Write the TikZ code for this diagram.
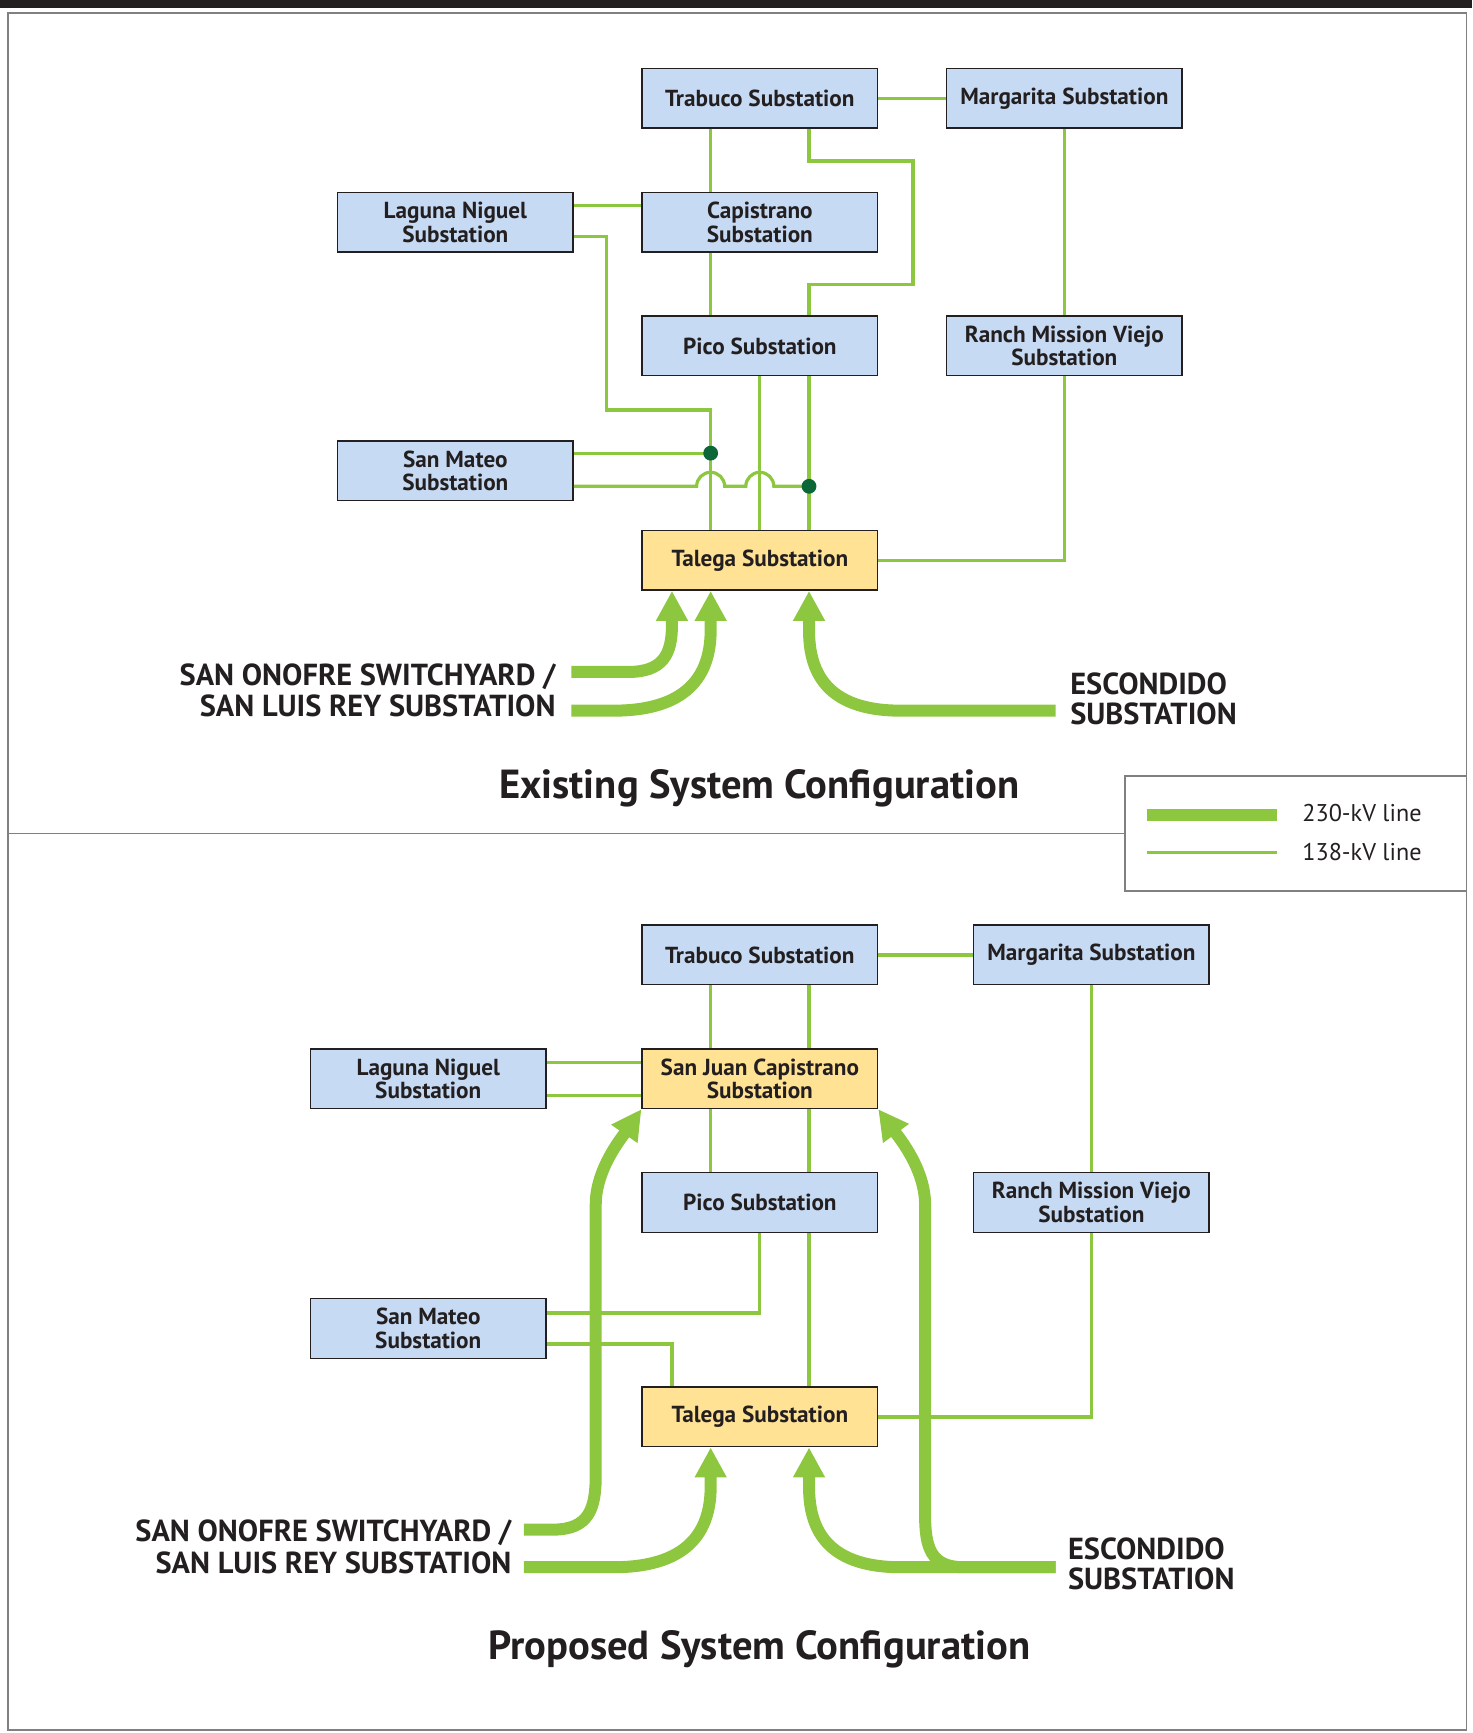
\documentclass[tikz,border=0pt]{standalone}
\usepackage{fontspec}
\setmainfont{PT Sans}
\usetikzlibrary{arrows.meta,positioning}
\definecolor{kvgreen}{HTML}{8DC63F}
\definecolor{boxblue}{HTML}{C6DAF3}
\definecolor{boxyellow}{HTML}{FFE294}
\definecolor{dotgreen}{HTML}{0B6638}
\definecolor{inkdark}{HTML}{231F20}
\definecolor{framegray}{HTML}{808080}

\begin{document}
\begin{tikzpicture}[x=0.5525pt,y=-0.5525pt,
  every node/.style={text=inkdark},
  sub/.style={draw=inkdark, line width=0.7pt, fill=boxblue, font=\bfseries\fontsize{11.6}{11.8}\selectfont,
    minimum width=117.7pt, minimum height=29.8pt, inner sep=0pt, align=center},
  newsub/.style={sub, fill=boxyellow},
  lowline/.style={draw=kvgreen, line width=1.6pt},
  highline/.style={draw=kvgreen, line width=6pt},
  feed/.style={highline, -{Triangle[width=15pt,length=15pt]}},
  source/.style={font=\bfseries\fontsize{15.2}{15}\selectfont, inner sep=0pt},
  heading/.style={font=\bfseries\fontsize{20.3}{22}\selectfont, inner sep=0pt},
  keytext/.style={font=\fontsize{12.1}{13}\selectfont, inner sep=0pt, anchor=west}]

  \def\laneA{643} % left lane
  \def\laneB{732} % right lane
  \def\laneC{608} % outer left lane
  \def\hop{7pt}   % radius of a line jump

  \useasboundingbox (0,0) rectangle (1332,1568);

  % frame, divider and key box
  \fill[inkdark] (0,0) rectangle (1332,7);
  \draw[framegray, line width=0.8pt] (7,12) rectangle (1327,1565);
  \draw[framegray, line width=0.8pt] (7,754) -- (1018,754);
  \draw[framegray, line width=0.8pt] (1018,702) rectangle (1327,806);

  % ---------- existing system ----------
  \node[sub] (trabuco) at (687.5,89) {Trabuco Substation};
  \node[sub] (margarita) at (963,89) {Margarita Substation};
  \node[sub] (laguna) at (412,201) {Laguna Niguel\\Substation};
  \node[sub] (capistrano) at (687.5,201) {Capistrano\\Substation};
  \node[sub] (pico) at (687.5,313) {Pico Substation};
  \node[sub] (ranch) at (963,313) {Ranch Mission Viejo\\Substation};
  \node[sub] (mateo) at (412,426) {San Mateo\\Substation};
  \node[newsub] (talega) at (687.5,507) {Talega Substation};

  % 138-kV lines
  \draw[lowline] (trabuco) -- (margarita);
  \draw[lowline] (trabuco.south -| \laneA,0) -- (capistrano.north -| \laneA,0);
  \draw[lowline] (trabuco.south -| \laneB,0) -- ++(0,29) -- ++(94,0) -- ++(0,112) -- ++(-94,0)
    -- (pico.north -| \laneB,0);
  \draw[lowline] (laguna.east |- 0,186) -- (capistrano.west |- 0,186);
  \draw[lowline] (laguna.east |- 0,214) -| (549,371) -| (talega.north -| \laneA,0);
  \draw[lowline] (capistrano.south -| \laneA,0) -- (pico.north -| \laneA,0);
  \draw[lowline] (margarita) -- (ranch);
  \draw[lowline] (ranch.south) |- (talega.east);
  \draw[lowline] (pico.south) -- (talega.north);
  \draw[lowline] (pico.south -| \laneB,0) -- (talega.north -| \laneB,0);
  \draw[lowline] (mateo.east |- 0,410) -- (\laneA,410);
  \draw[lowline] (mateo.east |- 0,440) -- (630.3,440) arc[start angle=180, end angle=0, radius=\hop]
    -- (674.8,440) arc[start angle=180, end angle=0, radius=\hop] -- (\laneB,440);
  \fill[dotgreen] (\laneA,410) circle[radius=3.7pt];
  \fill[dotgreen] (\laneB,440) circle[radius=3.7pt];

  % 230-kV feeds
  \node[source, anchor=east] (onofre) at (503,612) {SAN ONOFRE SWITCHYARD /};
  \node[source, anchor=east] (luisrey) at (503,639) {SAN LUIS REY SUBSTATION};
  \node[source, anchor=west, align=left] (escondido) at (968,632) {ESCONDIDO\\SUBSTATION};
  \draw[feed] (517,608) -- (568,608) .. controls (600,608) and (\laneC,592) .. (\laneC,565)
    -- (talega.south -| \laneC,0);
  \draw[feed] (517,643) -- (555,643) .. controls (628,643) and (\laneA,605) .. (\laneA,570)
    -- (talega.south -| \laneA,0);
  \draw[feed] (955,643) -- (815,643) .. controls (745,643) and (\laneB,605) .. (\laneB,570)
    -- (talega.south -| \laneB,0);

  \node[heading] (titleold) at (687,713) {Existing System Configuration};

  % key
  \draw[highline] (1038,737) -- (1155,737);
  \draw[lowline] (1038,771) -- (1155,771);
  \node[keytext] (keyhigh) at (1178,736) {230-kV line};
  \node[keytext] (keylow) at (1178,771) {138-kV line};

  % ---------- proposed system ----------
  \node[sub] (trabucoP) at (687.5,864) {Trabuco Substation};
  \node[sub] (margaritaP) at (987.5,864) {Margarita Substation};
  \node[sub] (lagunaP) at (387.5,976) {Laguna Niguel\\Substation};
  \node[newsub] (sanjuan) at (687.5,976) {San Juan Capistrano\\Substation};
  \node[sub] (picoP) at (687.5,1088) {Pico Substation};
  \node[sub] (ranchP) at (987.5,1088) {Ranch Mission Viejo\\Substation};
  \node[sub] (mateoP) at (387.5,1202) {San Mateo\\Substation};
  \node[newsub] (talegaP) at (687.5,1282) {Talega Substation};

  % 138-kV lines
  \draw[lowline] (trabucoP) -- (margaritaP);
  \draw[lowline] (trabucoP.south -| \laneA,0) -- (sanjuan.north -| \laneA,0);
  \draw[lowline] (trabucoP.south -| \laneB,0) -- (sanjuan.north -| \laneB,0);
  \draw[lowline] (lagunaP.east |- 0,961) -- (sanjuan.west |- 0,961);
  \draw[lowline] (lagunaP.east |- 0,991) -- (sanjuan.west |- 0,991);
  \draw[lowline] (sanjuan.south -| \laneA,0) -- (picoP.north -| \laneA,0);
  \draw[lowline] (sanjuan.south -| \laneB,0) -- (picoP.north -| \laneB,0);
  \draw[lowline] (margaritaP) -- (ranchP);
  \draw[lowline] (ranchP.south) |- (talegaP.east);
  \draw[lowline] (picoP.south) |- (mateoP.east |- 0,1188);
  \draw[lowline] (picoP.south -| \laneB,0) -- (talegaP.north -| \laneB,0);
  \draw[lowline] (mateoP.east |- 0,1216) -| (talegaP.north -| \laneC,0);

  % 230-kV feeds
  \node[source, anchor=east] (onofreP) at (463,1387) {SAN ONOFRE SWITCHYARD /};
  \node[source, anchor=east] (luisreyP) at (463,1414) {SAN LUIS REY SUBSTATION};
  \node[source, anchor=west, align=left] (escondidoP) at (966,1415) {ESCONDIDO\\SUBSTATION};
  \draw[feed] (474,1384) -- (500,1384) .. controls (533,1384) and (539,1365) .. (539,1335)
    -- (539,1090) .. controls (539,1058) and (562,1030) .. (sanjuan.south west);
  \draw[feed] (474,1418) -- (555,1418) .. controls (628,1418) and (\laneA,1380) .. (\laneA,1345)
    -- (talegaP.south -| \laneA,0);
  \draw[feed] (955,1418) -- (815,1418) .. controls (745,1418) and (\laneB,1380) .. (\laneB,1345)
    -- (talegaP.south -| \laneB,0);
  \draw[feed] (955,1418) -- (872,1418) .. controls (842,1418) and (837,1400) .. (837,1370)
    -- (837,1090) .. controls (837,1058) and (814,1030) .. (sanjuan.south east);

  \node[heading] (titlenew) at (687,1492) {Proposed System Configuration};
\end{tikzpicture}
\end{document}
